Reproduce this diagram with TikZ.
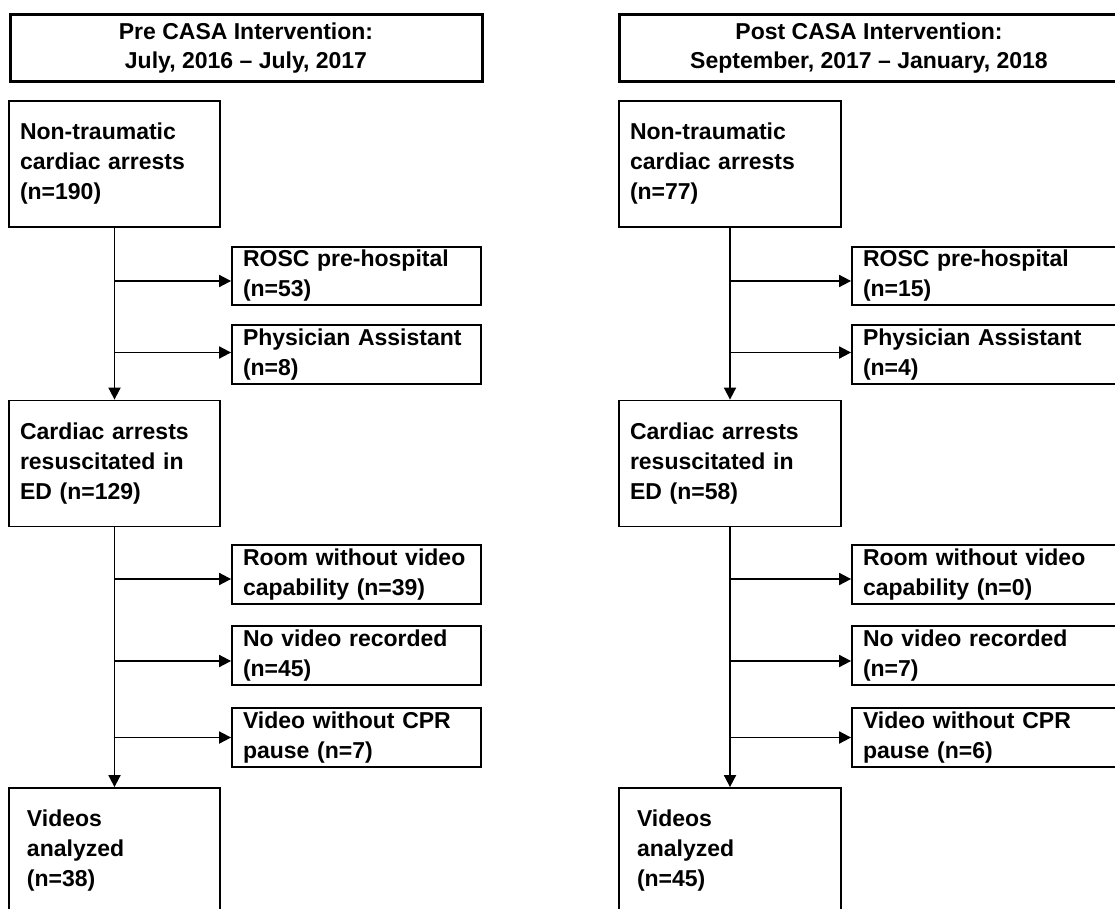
\documentclass[tikz,border=0pt]{standalone}
\usepackage{fontspec}
\setmainfont{Liberation Sans}
\usepackage{tikz}
\usetikzlibrary{arrows.meta}

\begin{document}
\begin{tikzpicture}[>={Triangle[length=12pt,width=12pt]}, x=1pt, y=-1pt, line width=1.8pt,
        box/.style={draw, rectangle, inner xsep=11pt, inner ysep=0pt, align=left,
                font=\bfseries\fontsize{23}{30}\selectfont},
        headbox/.style={draw, rectangle, line width=3pt, inner sep=0pt, align=center,
                minimum height=67pt, font=\bfseries\fontsize{23}{29}\selectfont},
        tallbox/.style={box, minimum height=126pt},
        sidebox/.style={box, minimum height=58.5pt}]
        \useasboundingbox (0,0) rectangle (1115,909);
        \clip (0,0) rectangle (1115,909);
        \node[headbox, minimum width=472pt] (0) at (246, 48.5) {Pre CASA Intervention:\\July, 2016 – July, 2017};
        \node[tallbox, text width=189pt] (1) at (114.5, 164) {Non-traumatic\\cardiac arrests\\(n=190)};
        \node[sidebox, text width=227pt] (2) at (356.5, 276) {ROSC pre-hospital\\(n=53)};
        \node[sidebox, text width=227pt] (3) at (356.5, 354.5) {Physician Assistant\\(n=8)};
        \node[tallbox, text width=189pt] (4) at (114.5, 463.5) {Cardiac arrests\\resuscitated in\\ED (n=129)};
        \node[sidebox, text width=227pt] (5) at (356.5, 574.5) {Room without video\\capability (n=39)};
        \node[sidebox, text width=227pt] (6) at (356.5, 655.5) {No video recorded\\(n=45)};
        \node[sidebox, text width=227pt] (7) at (356.5, 737.5) {Video without CPR\\pause (n=7)};
        \node[tallbox, inner xsep=18pt, text width=175pt] (8) at (114.5, 851) {Videos\\analyzed\\(n=38)};
        \node[headbox, minimum width=500pt] (10) at (869, 48.5) {Post CASA Intervention:\\September, 2017 – January, 2018};
        \node[tallbox, text width=200pt] (11) at (730, 164) {Non-traumatic\\cardiac arrests\\(n=77)};
        \node[sidebox, text width=256pt] (12) at (991, 276) {ROSC pre-hospital\\(n=15)};
        \node[sidebox, text width=256pt] (13) at (991, 354.5) {Physician Assistant\\(n=4)};
        \node[tallbox, text width=200pt] (14) at (730, 463.5) {Cardiac arrests\\resuscitated in\\ED (n=58)};
        \node[sidebox, text width=256pt] (15) at (991, 574.5) {Room without video\\capability (n=0)};
        \node[sidebox, text width=256pt] (16) at (991, 655.5) {No video recorded\\(n=7)};
        \node[sidebox, text width=256pt] (17) at (991, 737.5) {Video without CPR\\pause (n=6)};
        \node[tallbox, inner xsep=18pt, text width=186pt] (18) at (730, 851) {Videos\\analyzed\\(n=45)};
        \draw[->] (1) to (4);
        \draw[->] (4) to (8);
        \draw[->] ([yshift=-5pt]1.south |- 2.west) to ([yshift=-5pt]2.west);
        \draw[->] ([yshift=2pt]1.south |- 3.west) to ([yshift=2pt]3.west);
        \draw[->] ([yshift=-4.5pt]4.south |- 5.west) to ([yshift=-4.5pt]5.west);
        \draw[->] ([yshift=-5.5pt]4.south |- 6.west) to ([yshift=-5.5pt]6.west);
        \draw[->] (4.south |- 7.west) to (7.west);
        \draw[->] (11) to (14);
        \draw[->] (14) to (18);
        \draw[->] ([yshift=-5pt]11.south |- 12.west) to ([yshift=-5pt]12.west);
        \draw[->] ([yshift=2pt]11.south |- 13.west) to ([yshift=2pt]13.west);
        \draw[->] ([yshift=-4.5pt]14.south |- 15.west) to ([yshift=-4.5pt]15.west);
        \draw[->] ([yshift=-5.5pt]14.south |- 16.west) to ([yshift=-5.5pt]16.west);
        \draw[->] (14.south |- 17.west) to (17.west);
    \end{tikzpicture}
\end{document}
